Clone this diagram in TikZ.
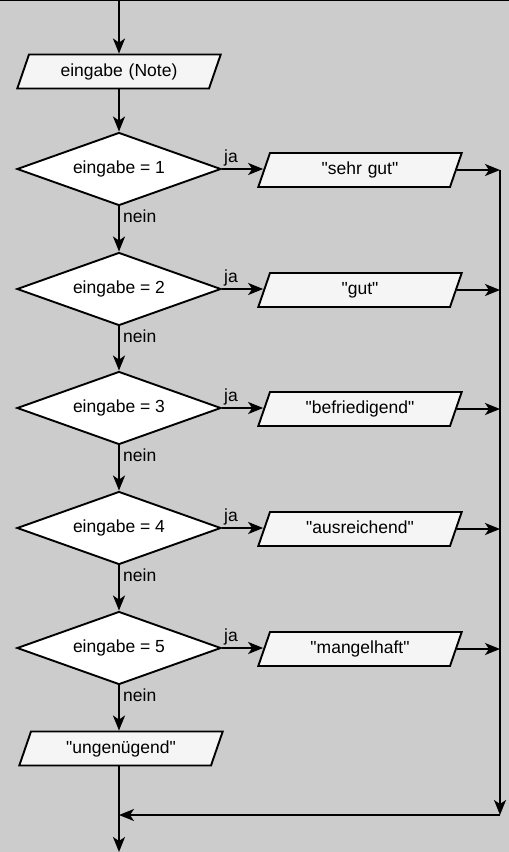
\documentclass[tikz,border=0pt]{standalone}
\usepackage{fontspec}
\setmainfont{Liberation Sans}
\usetikzlibrary{shapes.geometric,arrows.meta}
\definecolor{bg}{HTML}{CCCCCC}
\definecolor{iofill}{HTML}{F5F5F5}
\newcommand{\qq}[1]{\textquotedbl#1\textquotedbl}
\begin{document}
\begin{tikzpicture}[x=1bp,y=-1bp,
  every node/.style={font=\fontsize{17.5bp}{20bp}\selectfont},
  line/.style={line width=1.9bp, draw=black},
  arr/.style={line, -{Stealth[length=15bp,width=12bp,inset=4bp]}},
  decision/.style={diamond, draw=black, line width=1.9bp, fill=white, minimum width=204bp, minimum height=73bp, aspect=2.8, inner sep=0pt},
  io/.style={trapezium, trapezium left angle=71, trapezium right angle=109, draw=black, line width=1.9bp, fill=iofill, text width=180bp, align=center, text height=13bp, text depth=4bp, inner xsep=0pt, inner ysep=8.5bp},
  lbl/.style={inner sep=0pt}
]
\useasboundingbox (0,0) rectangle (509,852);
\fill[bg] (0,0) rectangle (509,852);
\fill[black] (0,0) rectangle (509,1.5);

\coordinate (top) at (119,0);
\node[io] (in) at (119,71.5) {eingabe (Note)};

\node[decision] (d1) at (119,169) {eingabe = 1};
\node[decision] (d2) at (119,289) {eingabe = 2};
\node[decision] (d3) at (119,408) {eingabe = 3};
\node[decision] (d4) at (119,528) {eingabe = 4};
\node[decision] (d5) at (119,648) {eingabe = 5};

\node[io] (r1) at (360,170) {\qq{sehr gut}};
\node[io] (r2) at (360,290) {\qq{gut}};
\node[io] (r3) at (360,409) {\qq{befriedigend}};
\node[io] (r4) at (360,529) {\qq{ausreichend}};
\node[io] (r5) at (360,649) {\qq{mangelhaft}};

\node[io] (u) at (121,748.5) {\qq{ungenügend}};

\coordinate (c1) at (500,170);
\coordinate (c2) at (500,290);
\coordinate (c3) at (500,409);
\coordinate (c4) at (500,529);
\coordinate (c5) at (500,649);
\coordinate (cb) at (500,815);
\coordinate (m) at (119,815);
\coordinate (bot) at (119,852);

% main flow
\draw[arr] (top) -- (in.north -| top);
\draw[arr] (in.south -| top) -- (d1.north);
\draw[arr] (d1.south) -- (d2.north);
\draw[arr] (d2.south) -- (d3.north);
\draw[arr] (d3.south) -- (d4.north);
\draw[arr] (d4.south) -- (d5.north);
\draw[arr] (d5.south) -- (u.north -| d5.south);
\draw[arr] (u.south -| m) -- (bot);

% ja branches
\foreach \i in {1,...,5}{
  \draw[arr] (d\i.east) -- (d\i.east -| r\i.west);
  \draw[arr] (r\i.east) -- (c\i);
  \node[lbl, anchor=base west] (ja\i) at ([xshift=2bp,yshift=7bp]d\i.east) {ja};
  \node[lbl, anchor=base west] (nein\i) at ([xshift=4bp,yshift=-16bp]d\i.south) {nein};
}

% collector
\draw[arr] (c1) -- (cb);
\draw[arr] (cb) -- (m);
\end{tikzpicture}
\end{document}
